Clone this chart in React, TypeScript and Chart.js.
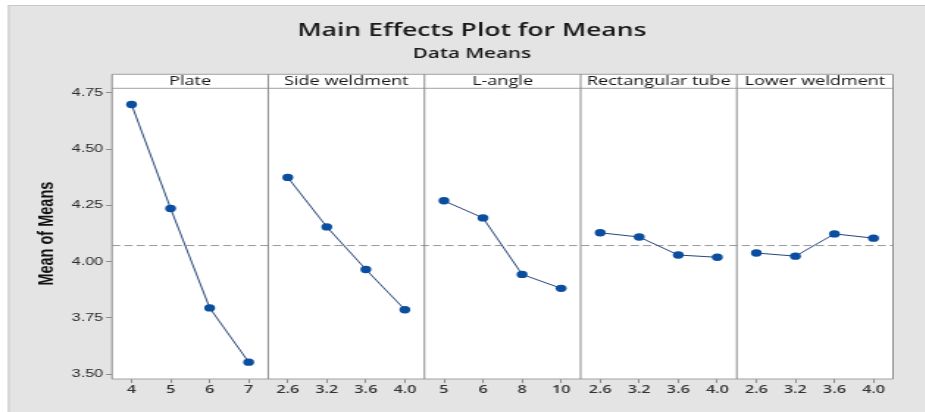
import React, { useEffect, useRef } from 'react';
import { Chart, registerables } from 'chart.js';

Chart.register(...registerables);

// ---------- data ----------
const factorNames = ['Plate', 'Side weldment', 'L-angle', 'Rectangular tube', 'Lower weldment'];

const plateLevels = ['4', '5', '6', '7'];
const sideLevels = ['2.6', '3.2', '3.6', '4.0'];
const langleLevels = ['5', '6', '8', '10'];
const rectLevels = ['2.6', '3.2', '3.6', '4.0'];
const lowerLevels = ['2.6', '3.2', '3.6', '4.0'];

const plateMeans = [4.698, 4.236, 3.794, 3.553];
const sideMeans = [4.374, 4.154, 3.965, 3.786];
const langleMeans = [4.27, 4.194, 3.943, 3.881];
const rectMeans = [4.128, 4.109, 4.029, 4.019];
const lowerMeans = [4.038, 4.024, 4.123, 4.104];

const yTickValues = [3.5, 3.75, 4.0, 4.25, 4.5, 4.75];
const Y_MIN = 3.478;
const Y_MAX = 4.77;

// ---------- layout ----------
const STRETCH = 1.47; // reference picture is horizontally stretched
const W = 629;
const H = 412;
const HEADER_TOP = 74.3;

const levelSets = [plateLevels, sideLevels, langleLevels, rectLevels, lowerLevels];
const meanSets = [plateMeans, sideMeans, langleMeans, rectMeans, lowerMeans];
const allMeans = meanSets.flat();
const grandMean = allMeans.reduce((a, b) => a + b, 0) / allMeans.length;

const panelIds = factorNames.map((_, i) => 'x' + i);

const framePlugin = {
  id: 'minitabFrame',
  beforeDraw(chart: any) {
    const { ctx, chartArea: ca } = chart;
    ctx.save();
    ctx.fillStyle = '#ffffff';
    ctx.fillRect(0, 0, W, H);
    ctx.fillStyle = '#e4e4e4';
    ctx.fillRect(5.4, 5, W - 5.4, H - 5);
    ctx.strokeStyle = '#c8c8c8';
    ctx.lineWidth = 1;
    ctx.beginPath();
    ctx.moveTo(5.4, 5.5);
    ctx.lineTo(W, 5.5);
    ctx.moveTo(5.9, 5);
    ctx.lineTo(5.9, H);
    ctx.stroke();
    ctx.fillStyle = '#ffffff';
    ctx.fillRect(ca.left, HEADER_TOP, ca.right - ca.left, ca.bottom - HEADER_TOP);
    ctx.restore();
  },
  beforeDatasetsDraw(chart: any) {
    const { ctx, chartArea: ca, scales } = chart;
    ctx.save();
    // grand mean reference line
    const yPix = scales.y.getPixelForValue(grandMean);
    ctx.strokeStyle = '#999999';
    ctx.lineWidth = 1;
    ctx.setLineDash([5.6, 2.8]);
    ctx.beginPath();
    ctx.moveTo(ca.left, yPix);
    ctx.lineTo(ca.right, yPix);
    ctx.stroke();
    ctx.setLineDash([]);

    // header strip + panel frame
    ctx.strokeStyle = '#a2a2a2';
    ctx.lineWidth = 1;
    ctx.beginPath();
    ctx.moveTo(ca.left, HEADER_TOP);
    ctx.lineTo(ca.right, HEADER_TOP);
    ctx.moveTo(ca.left, ca.top);
    ctx.lineTo(ca.right, ca.top);
    ctx.moveTo(ca.left, ca.bottom);
    ctx.lineTo(ca.right, ca.bottom);
    ctx.stroke();

    ctx.strokeStyle = '#8a8a8a';
    ctx.beginPath();
    panelIds.forEach((id, i) => {
      const s = scales[id];
      if (i === 0) {
        ctx.moveTo(s.left, HEADER_TOP);
        ctx.lineTo(s.left, ca.bottom);
      }
      ctx.moveTo(s.right, HEADER_TOP);
      ctx.lineTo(s.right, ca.bottom);
    });
    ctx.stroke();

    // header labels
    ctx.fillStyle = '#151515';
    ctx.font = '12.3px "Open Sans", "Noto Sans", sans-serif';
    ctx.textAlign = 'center';
    ctx.textBaseline = 'middle';
    panelIds.forEach((id, i) => {
      const s = scales[id];
      ctx.fillText(factorNames[i], (s.left + s.right) / 2, (HEADER_TOP + ca.top) / 2 + 0.5);
    });
    ctx.restore();
  },
};

export default function App() {
  const ref = useRef<HTMLCanvasElement>(null);

  useEffect(() => {
    document.body.style.margin = '0';
    const scales: any = {
      y: {
        type: 'linear',
        position: 'left',
        min: Y_MIN,
        max: Y_MAX,
        afterBuildTicks: (s: any) => {
          s.ticks = yTickValues.map((v) => ({ value: v }));
        },
        afterFit: (s: any) => {
          s.width = 41.7;
        },
        ticks: {
          callback: (v: any) => Number(v).toFixed(2),
          font: { family: '"Liberation Sans Narrow", "Liberation Sans", Arial, sans-serif', size: 11 },
          color: '#2a2a2a',
          padding: 2,
        },
        grid: { drawOnChartArea: false, drawTicks: true, tickLength: 4, color: '#8c8c8c' },
        border: { display: false },
        title: {
          display: true,
          text: 'Mean of Means',
          font: { family: '"Liberation Sans", Arial, sans-serif', size: 14.5, weight: 'bold' },
          color: '#111111',
          padding: { top: -11.7, bottom: 0 },
        },
      },
    };
    panelIds.forEach((id, i) => {
      scales[id] = {
        type: 'category',
        labels: levelSets[i],
        position: 'bottom',
        stack: 'panels',
        stackWeight: 1,
        offset: true,
        afterFit: (s: any) => {
          s.height = 33;
        },
        grid: { offset: false, drawOnChartArea: false, drawTicks: true, tickLength: 4, color: '#8c8c8c' },
        border: { display: false },
        ticks: {
          font: { family: '"Open Sans", "Noto Sans", sans-serif', size: 11, weight: 600 },
          color: '#333333',
          padding: 0,
          maxRotation: 0,
          autoSkip: false,
        },
      };
    });

    const datasets = panelIds.map((id, i) => ({
      label: factorNames[i],
      data: meanSets[i],
      xAxisID: id,
      yAxisID: 'y',
      borderColor: '#27467a',
      backgroundColor: '#0b4d9e',
      borderWidth: 1,
      pointRadius: 3.7,
      pointBackgroundColor: '#0b4d9e',
      pointBorderColor: '#0b4d9e',
      pointBorderWidth: 0,
      tension: 0,
    }));

    const chart = new Chart(ref.current as HTMLCanvasElement, {
      type: 'line',
      data: { datasets } as any,
      options: {
        responsive: false,
        animation: false,
        devicePixelRatio: 1,
        layout: { padding: { left: 34.5, right: 21.5, top: 0, bottom: 0 } },
        scales,
        plugins: {
          legend: { display: false },
          tooltip: { enabled: false },
          title: {
            display: true,
            text: 'Main Effects Plot for Means',
            font: { family: '"Open Sans", "Noto Sans", sans-serif', size: 18, weight: 600 as any },
            color: '#1a1a1a',
            padding: { top: 20.5, bottom: 0 },
          },
          subtitle: {
            display: true,
            text: 'Data Means',
            font: { family: '"Open Sans", "Noto Sans", sans-serif', size: 14, weight: 600 as any },
            color: '#1a1a1a',
            padding: { top: 3.7, bottom: 25.7 },
          },
        },
      } as any,
      plugins: [framePlugin],
    });
    return () => chart.destroy();
  }, []);

  return (
    <div style={{ width: 925, height: 412, overflow: 'hidden' }}>
      <canvas
        ref={ref}
        width={W}
        height={H}
        style={{ transform: `scaleX(${STRETCH})`, transformOrigin: '0 0' }}
      />
    </div>
  );
}
